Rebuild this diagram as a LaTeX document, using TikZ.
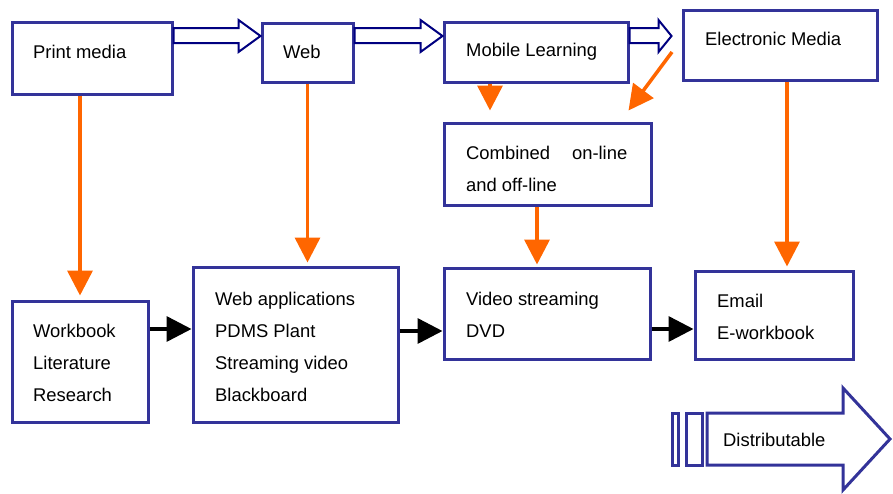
\documentclass[tikz,border=0pt]{standalone}
\usepackage{fontspec}
\setmainfont{Liberation Sans}
\usetikzlibrary{calc,arrows.meta}

\definecolor{boxblue}{RGB}{51,51,153}
\definecolor{navy}{RGB}{0,0,128}
\definecolor{flow}{RGB}{255,102,0}

\newcommand\blockarrow[4]{%
	\coordinate (tip) at ($(#2.west |- 0,36)+(-#4,0)$);
	\draw[hollow] (#1.east |- 0,28) -- ($(tip)+(-#3,-8)$) -- ($(tip)+(-#3,-16)$) -- (tip)
		-- ($(tip)+(-#3,16)$) -- ($(tip)+(-#3,7)$) -- (#1.east |- 0,43) -- cycle;}

\begin{document}
\begin{tikzpicture}[x=1pt, y=-1pt,
		box/.style={draw=boxblue, line width=3pt, fill=white, inner sep=0pt},
		txt/.style={anchor=west, inner sep=0pt, align=left, font=\fontsize{18.4}{32}\selectfont},
		hollow/.style={draw=navy, line width=2pt, fill=white, line join=miter},
		down/.style={draw=flow, line width=3.5pt, -{Triangle[length=25pt,width=25pt]}, flow},
		next/.style={draw=black, line width=3.5pt, -{Triangle[length=25pt,width=25pt]}}]
			
				\useasboundingbox (0,0) rectangle (893,493);
			
				\node[box, minimum width=160pt, minimum height=72pt] (print) at (92,58) {};
				\node[box, minimum width=91pt, minimum height=59pt] (web) at (307.5,52.5) {};
				\node[box, minimum width=184pt, minimum height=60pt] (mobile) at (536,52) {};
				\node[box, minimum width=194pt, minimum height=70pt] (elec) at (780,45) {};
				\node[box, minimum width=207pt, minimum height=82pt] (comb) at (547.5,164) {};
				\node[box, minimum width=136pt, minimum height=121pt] (workbook) at (80,361.5) {};
				\node[box, minimum width=205pt, minimum height=155pt] (webapp) at (295.5,344.5) {};
				\node[box, minimum width=206pt, minimum height=91pt] (video) at (547,313.5) {};
				\node[box, minimum width=158pt, minimum height=88pt] (email) at (774,315) {};
			
				\node[txt] (print-t) at (33,52) {Print media};
				\node[txt] (web-t) at (283,52) {Web};
				\node[txt] (mobile-t) at (466,52) {Mobile Learning};
				\node[txt] (elec-t) at (705,39) {Electronic Media};
				\node[txt] (comb-t) at (466,168.5) {Combined\hspace{22pt}on-line\\and off-line};
				\node[txt] (workbook-t) at (33,363) {Workbook\\Literature\\Research};
				\node[txt] (webapp-t) at (215,346.5) {Web applications\\PDMS Plant\\Streaming video\\Blackboard};
				\node[txt] (video-t) at (466,314.5) {Video streaming\\DVD};
				\node[txt] (email-t) at (717,316.5) {Email\\E-workbook};
			
				\blockarrow{print}{web}{22}{0}
				\blockarrow{web}{mobile}{22}{0}
				\blockarrow{mobile}{elec}{13}{10}
			
				\draw[down, shorten >=4pt] (print.south -| workbook.north) -- (workbook.north);
				\draw[down, shorten >=3pt] (web.south) -- (web.south |- webapp.north);
				\draw[down, shorten >=11pt] (mobile.south -| 490,0) -- (comb.north -| 490,0);
				\coordinate (diag) at (672,52);
				\draw[down] (diag) -- ($(comb.north east)+(-24,-11)$);
				\draw[down, shorten >=2pt] (comb.south -| 537,0) -- (video.north -| 537,0);
				\draw[down, shorten >=3pt] (elec.south -| 787,0) -- (email.north -| 787,0);
			
				\draw[next] (workbook.east |- 0,329) -- (webapp.west |- 0,329);
				\draw[next] (webapp.east |- 0,331) -- (video.west |- 0,331);
				\draw[next] (video.east |- 0,329) -- (email.west |- 0,329);
			
				\draw[boxblue, line width=3pt] (672,413) rectangle (678,465);
				\draw[boxblue, line width=3pt] (686,413) rectangle (702,465);
				\draw[boxblue, line width=3pt, line join=miter] (707,413) -- (843,413) -- (843,388) -- (890,439)
					-- (843,490) -- (843,465) -- (707,465) -- cycle;
				\node[txt] (dist-t) at (723,440) {Distributable};
			
			\end{tikzpicture}
\end{document}
